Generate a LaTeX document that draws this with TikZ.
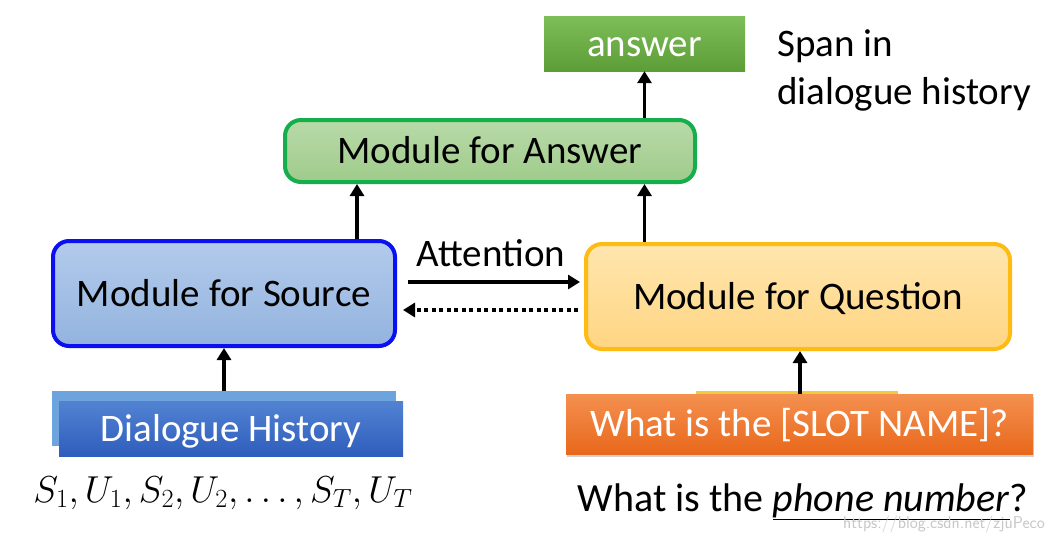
\RequirePackage{fix-cm}
\documentclass[tikz,border=0pt]{standalone}
\usepackage{fontspec}
\setmainfont{Carlito}
\usetikzlibrary{arrows.meta,shadows}
\definecolor{ansTop}{HTML}{7DBE58}
\definecolor{ansBot}{HTML}{5C9D38}
\definecolor{mfaTop}{HTML}{B8DAA8}
\definecolor{mfaBot}{HTML}{A0CB8B}
\definecolor{mfaLine}{HTML}{14AE4C}
\definecolor{srcTop}{HTML}{B3CBEB}
\definecolor{srcBot}{HTML}{93B3DF}
\definecolor{srcLine}{HTML}{0A10F0}
\definecolor{qTop}{HTML}{FFE6AE}
\definecolor{qBot}{HTML}{FFD582}
\definecolor{qLine}{HTML}{FDBB14}
\definecolor{dhBack}{HTML}{6EA4DD}
\definecolor{dhTop}{HTML}{5283D2}
\definecolor{dhBot}{HTML}{2F5DBD}
\definecolor{orTop}{HTML}{F4904F}
\definecolor{orBot}{HTML}{E8681C}
\definecolor{strip}{HTML}{F2CC38}
\tikzset{
  txt/.style={font=\fontsize{39}{47}\selectfont, inner sep=0pt},
  boxtxt/.style={txt, text height=25pt, text depth=0pt},
  modbox/.style={rounded corners=16pt, line width=4pt, inner sep=0pt, boxtxt, text=black},
  flatbox/.style={inner sep=0pt, boxtxt, text=white},
  arr/.style={line width=3.6pt, -{Triangle[width=14pt,length=12pt]}},
  dotarr/.style={line width=3.6pt, dash pattern=on 4pt off 3.5pt, -{Triangle[width=14pt,length=12pt]}},
}
\begin{document}
\begin{tikzpicture}[x=1pt,y=-1pt]
\useasboundingbox (0,0) rectangle (1055,541);
\fill[white] (0,0) rectangle (1055,541);
% top answer
\node[flatbox, top color=ansTop, bottom color=ansBot, minimum width=201pt, minimum height=55pt] (ans) at (644.5,43.5) {answer};
\node[txt, anchor=north west, align=left, font=\fontsize{39}{48}\selectfont] (span) at (777,29) {Span in\\dialogue history};
% module for answer
\node[modbox, draw=mfaLine, top color=mfaTop, bottom color=mfaBot, minimum width=410pt, minimum height=62pt] (mfa) at (490,151) {Module for Answer};
% module for source
\node[modbox, draw=srcLine, top color=srcTop, bottom color=srcBot, minimum width=342pt, minimum height=105pt] (src) at (224,293.5) {Module for Source};
% module for question
\node[modbox, draw=qLine, top color=qTop, bottom color=qBot, minimum width=424pt, minimum height=105pt] (q) at (798,296.5) {Module for Question};
% dialogue history
\node[flatbox, fill=dhBack, minimum width=344pt, minimum height=55pt] (dhb) at (224,418.5) {};
\node[flatbox, top color=dhTop, bottom color=dhBot, minimum width=344pt, minimum height=55pt] (dh) at (231,428.5) {Dialogue History};
% slot question
\node[fill=strip, inner sep=0pt, minimum width=202pt, minimum height=8pt] (strp) at (797,395) {};
\node[flatbox, top color=orTop, bottom color=orBot, minimum width=467pt, minimum height=60pt, drop shadow={shadow xshift=1pt, shadow yshift=-3pt, opacity=0.35}] (slot) at (799.5,424) {What is the [SLOT NAME]?};
% bottom texts
\node[inner sep=0pt, anchor=base, font=\fontsize{37.5}{44}\selectfont] (seq) at (223,502) {$S_1, U_1, S_2, U_2, \ldots, S_T, U_T$};
\node[txt, anchor=base, font=\fontsize{40}{48}\selectfont] (phone) at (803,511) {What is the \underline{\textit{phone number}}?};
\node[inner sep=0pt, anchor=base, text=black!22, font=\fontsize{17}{20}\selectfont\sffamily] (wm) at (944,528) {https://blog.csdn.net/zjuPeco};
% attention
\node[txt, anchor=base] (att) at (491,266) {Attention};
% connectors
\draw[arr] ([xshift=133pt]src.north) -- ([xshift=133pt]src.north |- mfa.south);
\draw[arr] (q.north -| ans.south) -- (mfa.south -| ans.south);
\draw[arr] (mfa.north -| ans.south) -- (ans.south);
\draw[arr] (dhb.north) -- (src.south);
\draw[arr] (slot.north -| 800,0) -- (q.south -| 800,0);
\draw[arr, shorten <=11pt, shorten >=4pt] ([yshift=11.5pt]src.east) -- ([yshift=14.5pt]q.west);
\draw[dotarr, shorten <=6pt, shorten >=6pt] ([yshift=-13.5pt]q.west) -- ([yshift=-16.5pt]src.east);
\end{tikzpicture}
\end{document}
